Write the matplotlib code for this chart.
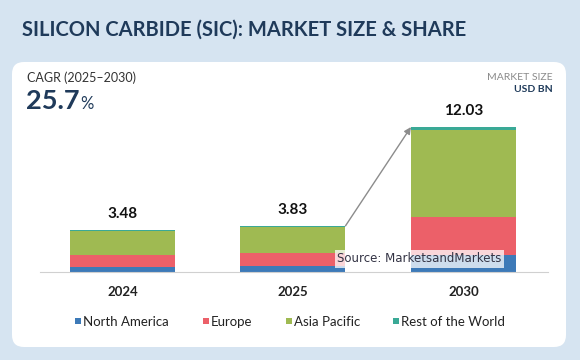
import numpy as np
import matplotlib
matplotlib.use("Agg")
from matplotlib import pyplot as plt
import matplotlib.patches as patches

# data (USD BN)
years = ["2024", "2025", "2030"]
totals = [3.48, 3.83, 12.03]
north_america = [0.45, 0.48, 1.45]
europe = [0.95, 1.10, 3.12]
asia_pacific = [2.01, 2.17, 7.18]
rest_of_world = [0.07, 0.08, 0.28]
regions = ["North America", "Europe", "Asia Pacific", "Rest of the World"]
colors = ["#3d7ab8", "#ec6069", "#9fba52", "#3aa996"]

plt.rcParams['font.family'] = ['Lato', 'DejaVu Sans']
navy = "#1f3a5a"

fig = plt.figure(figsize=(5.8, 3.6), dpi=100)
fig.patch.set_facecolor("#d6e4f1")

# background axes in pixel coords for card + texts
bg = fig.add_axes([0, 0, 1, 1])
bg.set_xlim(0, 580)
bg.set_ylim(360, 0)
bg.axis('off')

card = patches.FancyBboxPatch((12, 62), 554, 285, boxstyle="round,pad=0,rounding_size=12",
                              facecolor="white", edgecolor="none")
bg.add_patch(card)

bg.text(22, 30, "SILICON CARBIDE (SIC): MARKET SIZE & SHARE", fontsize=14.5,
        fontweight='bold', color=navy, va='center', ha='left')
bg.text(27, 78, "CAGR (2025\u20132030)", fontsize=9, color="#333333", va='center')
bg.text(26, 101, "25.7", fontsize=19.5, fontweight='bold', color=navy, va='center')
bg.text(80, 104, "%", fontsize=12, color=navy, va='center')
bg.text(553, 77, "MARKET SIZE", fontsize=7.5, color="#8a8a8a", va='center', ha='right')
bg.text(553, 89, "USD BN", fontsize=7.5, fontweight='bold', color=navy, va='center', ha='right')

# legend drawn manually
leg_x = [75, 203, 286, 393]
for lx, name, c in zip(leg_x, regions, colors):
    bg.add_patch(patches.Rectangle((lx, 318), 6, 6, facecolor=c, edgecolor='none'))
    bg.text(lx + 8, 321.5, name, fontsize=9.5, color="#222222", va='center', ha='left')

# bar axes
ax = fig.add_axes([40 / 580, (360 - 272) / 360, (548 - 40) / 580, (272 - 100) / 360])
ax.patch.set_alpha(0)
x = np.arange(len(years))
width = 0.616
bottom = np.zeros(len(years))
for vals, c in zip([north_america, europe, asia_pacific, rest_of_world], colors):
    ax.bar(x, vals, width, bottom=bottom, color=c, edgecolor='none')
    bottom += np.array(vals)

for xi, t in zip(x, totals):
    ax.text(xi, t + 0.75, f"{t:.2f}", ha='center', va='bottom', fontsize=11,
            fontweight='bold', color="#111111")

ax.set_xlim(-0.484, 2.496)
ax.set_ylim(0, 172 / 12.05)
for s in ["top", "right", "left"]:
    ax.spines[s].set_visible(False)
ax.spines["bottom"].set_color("#d0d0d0")
ax.set_yticks([])
ax.set_xticks(x)
ax.set_xticklabels(years, fontsize=9.5, fontweight='bold', color="#222222")
ax.tick_params(axis='x', length=0, pad=10)

ax.annotate("", xy=(2 - width / 2, totals[2]), xytext=(1 + width / 2, totals[1]),
            arrowprops=dict(arrowstyle="-|>", color="#8c8c8c", lw=1, mutation_scale=10,
                            shrinkA=0, shrinkB=0))

# source note on top of the bars
ax.text(337, 259, "Source: MarketsandMarkets", fontsize=8.5, family='DejaVu Sans',
        color="#333344", va='center', ha='left', transform=bg.transData,
        clip_on=False, zorder=10,
        bbox=dict(facecolor='white', alpha=0.75, edgecolor='none', pad=1.5))

fig.savefig("out.png", dpi=100, facecolor=fig.get_facecolor())
